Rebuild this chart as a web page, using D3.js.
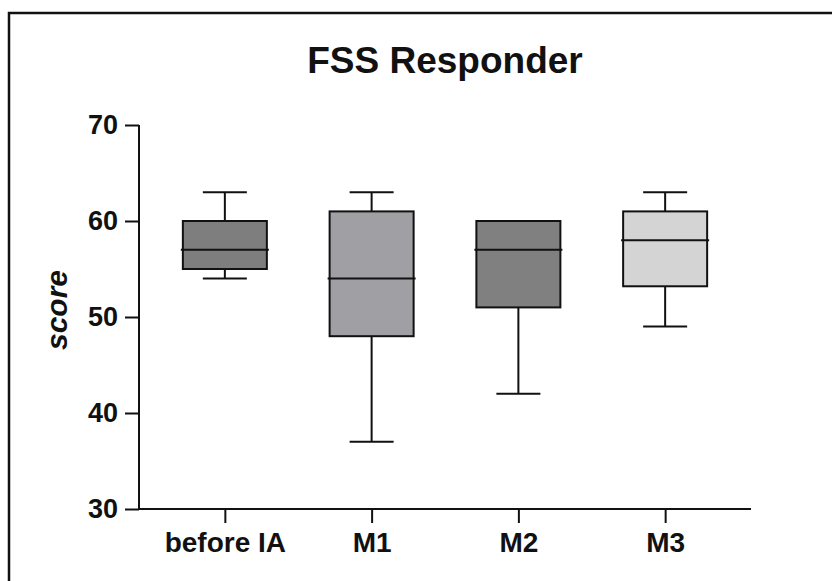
<!DOCTYPE html>
<html>
<head>
<meta charset="utf-8">
<script src="https://cdn.jsdelivr.net/npm/d3@7"></script>
<style>
  html, body { margin: 0; padding: 0; background: #fff; overflow: hidden; }
  svg { display: block; }
  text { font-family: "Liberation Sans", Arial, Helvetica, sans-serif; fill: #111; }
</style>
</head>
<body>
<svg id="chart" width="832" height="581"></svg>
<script>
const categories = ["before IA", "M1", "M2", "M3"];
const mins    = [54, 37, 42, 49];
const q1s     = [55, 48, 51, 53.2];
const medians = [57, 54, 57, 58];
const q3s     = [60, 61, 60, 61];
const maxs    = [63, 63, 60, 63];
const fills   = ["#7e7e7e", "#a09fa4", "#808080", "#d4d4d4"];
const yTicks  = [30, 40, 50, 60, 70];
const titleText = "FSS Responder";
const yLabel = "score";

(function () {
const svg = d3.select("#chart");
const pLeft = 139, pRight = 751, pTop = 125, pBottom = 509;

// frame
svg.append("rect")
  .attr("x", 9).attr("y", 13).attr("width", 900).attr("height", 700)
  .attr("fill", "none").attr("stroke", "#111").attr("stroke-width", 2.5);

const x = d3.scalePoint().domain(categories).range([pLeft, pRight]).padding(0.585);
const y = d3.scaleLinear().domain([30, 70]).range([pBottom, pTop]);
const boxW = 84, capW = 44;

// title
svg.append("text")
  .attr("x", (pLeft + pRight) / 2).attr("y", 73)
  .attr("text-anchor", "middle")
  .attr("font-size", 37).attr("font-weight", "bold")
  .text(titleText);

// y axis
const yAxis = svg.append("g")
  .attr("transform", `translate(${pLeft},0)`)
  .call(d3.axisLeft(y).tickValues(yTicks).tickSize(14).tickPadding(7).tickFormat(d3.format("d")));
yAxis.select(".domain").attr("stroke", "#111").attr("stroke-width", 2).attr("d", `M0,${pTop}V${pBottom}`);
yAxis.selectAll(".tick line").attr("stroke", "#111").attr("stroke-width", 2);
yAxis.selectAll(".tick text").attr("font-size", 27).attr("font-weight", "bold")
  .attr("font-family", "'Liberation Sans', Arial, sans-serif").attr("fill", "#111");

// x axis
const xAxis = svg.append("g")
  .attr("transform", `translate(0,${pBottom})`)
  .call(d3.axisBottom(x).tickSize(14).tickPadding(9));
xAxis.select(".domain").attr("stroke", "#111").attr("stroke-width", 2).attr("d", `M${pLeft},0H${pRight}`);
xAxis.selectAll(".tick line").attr("stroke", "#111").attr("stroke-width", 2);
xAxis.selectAll(".tick text").attr("font-size", 28).attr("font-weight", "bold")
  .attr("font-family", "'Liberation Sans', Arial, sans-serif").attr("fill", "#111");

// y label
svg.append("text")
  .attr("transform", `translate(67,${(pTop + pBottom) / 2 - 7}) rotate(-90)`)
  .attr("text-anchor", "middle")
  .attr("font-size", 30).attr("font-style", "italic").attr("font-weight", "bold")
  .text(yLabel);

// boxes
const g = svg.append("g");
categories.forEach((c, i) => {
  const cx = x(c);
  g.append("line").attr("x1", cx).attr("x2", cx).attr("y1", y(maxs[i])).attr("y2", y(q3s[i]))
    .attr("stroke", "#111").attr("stroke-width", 2);
  g.append("line").attr("x1", cx).attr("x2", cx).attr("y1", y(q1s[i])).attr("y2", y(mins[i]))
    .attr("stroke", "#111").attr("stroke-width", 2);
  g.append("line").attr("x1", cx - capW / 2).attr("x2", cx + capW / 2).attr("y1", y(maxs[i])).attr("y2", y(maxs[i]))
    .attr("stroke", "#111").attr("stroke-width", 2);
  g.append("line").attr("x1", cx - capW / 2).attr("x2", cx + capW / 2).attr("y1", y(mins[i])).attr("y2", y(mins[i]))
    .attr("stroke", "#111").attr("stroke-width", 2);
  g.append("rect").attr("x", cx - boxW / 2).attr("width", boxW)
    .attr("y", y(q3s[i])).attr("height", y(q1s[i]) - y(q3s[i]))
    .attr("fill", fills[i]).attr("stroke", "#111").attr("stroke-width", 2);
  g.append("line").attr("x1", cx - boxW / 2 - 2).attr("x2", cx + boxW / 2 + 2)
    .attr("y1", y(medians[i])).attr("y2", y(medians[i]))
    .attr("stroke", "#111").attr("stroke-width", 2);
});
})();
</script>
</body>
</html>
